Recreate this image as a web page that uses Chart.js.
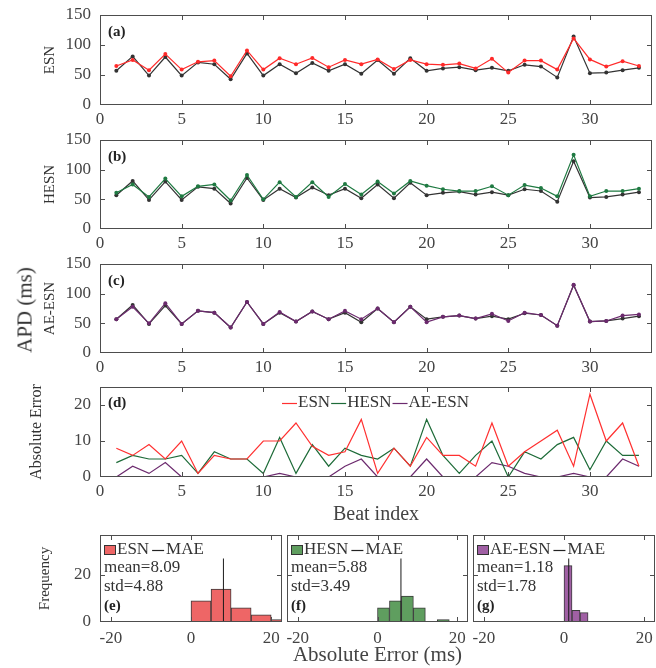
<!DOCTYPE html>
<html>
<head>
<meta charset="utf-8">
<script src="https://cdn.jsdelivr.net/npm/chart.js@4.4.0/dist/chart.umd.min.js"></script>
<style>
  html, body { margin: 0; padding: 0; background: #fff; }
  #fig { position: relative; width: 656px; height: 668px; overflow: hidden; }
  #fig canvas { position: absolute; }
  #apd {
    position: absolute; left: 25px; top: 310px;
    transform: translate(-50%, -50%) rotate(-90deg);
    font: 21px 'Liberation Serif', serif; color: #333; white-space: nowrap;
  }
</style>
</head>
<body>
<div id="fig">
  <canvas id="chA" width="656" height="135" style="left:0;top:-5px"></canvas>
  <canvas id="chB" width="656" height="135" style="left:0;top:120px"></canvas>
  <canvas id="chC" width="656" height="134" style="left:0;top:244px"></canvas>
  <canvas id="chD" width="656" height="163" style="left:0;top:367px"></canvas>
  <canvas id="chE" width="288" height="135" style="left:0;top:515px"></canvas>
  <canvas id="chF" width="199" height="153" style="left:275px;top:515px"></canvas>
  <canvas id="chG" width="200" height="135" style="left:461px;top:515px"></canvas>
  <div id="apd">APD (ms)</div>
</div>
<script>
// beat-by-beat APD values (ms)
const beats = [1,2,3,4,5,6,7,8,9,10,11,12,13,14,15,16,17,18,19,20,21,22,23,24,25,26,27,28,29,30,31,32,33];
const apdTrue = [57,81,49,80,49,71,68,43,86,49,68,53,70,57,68,52,75,52,78,57,61,63,58,62,57,67,64,46,114,53,54,58,62];
const apdESN  = [65,75,58,85,59,72,74,48,91,59,78,68,78.5,63,75,68,76,60,75,68,67,69,61,77,54,74,74,59,111,76,64,73,65];
const apdHESN = [61,75,54,85,55,72,75,48,91,50,79,54,79,54,76,58,80,60,81,73,67,64,64,72,57,74,69,55,125,55,64,64,68];
const apdAE   = [57,78,50,84,49,71,68,43,86,49,69,53,70,57,71,57,75,52,78,52,61,63,58,66,54,68,64,46,115,53,54,63,65];

// absolute errors per beat
const errESN  = [8,6,9,5,10,1,6,5,5,10,10,15,8.5,6,7,16,1,8,3,11,6,6,3,15,3,7,10,13,3,23,10,15,3];
const errHESN = [4,6,5,5,6,1,7,5,5,1,11,1,9,3,8,6,5,8,3,16,6,1,6,10,0,7,5,9,11,2,10,6,6];
const errAE   = [0,3,1,4,0,0,0,0,0,0,1,0,0,0,3,5,0,0,0,5,0,0,0,4,3,1,0,0,1,0,0,5,3];

// histograms of the errors
const esnBinCenters  = [2.5, 7.5, 12.5, 17.5, 22.5];
const esnCounts      = [9, 14, 6, 3, 1];
const hesnBinCenters = [1.5, 4.5, 7.5, 10.5, 13.5, 16.5];
const hesnCounts     = [6, 9, 11, 6, 0, 1];
const aeBinCenters   = [1, 3, 5];
const aeCounts       = [24, 5, 4];
const maeMean = [8.09, 5.88, 1.18];
const maeStd  = [4.88, 3.49, 1.78];
const maeLineTop = 27;

// tick values
const beatTicks = [0, 5, 10, 15, 20, 25, 30];
const apdTicks  = [0, 50, 100, 150];
const errTicks  = [0, 10, 20];
const histXTicks = [-20, 0, 20];
const histYTicks = [0, 20];

const C = {
  truth: '#333333',
  esn: '#ff2a2a', hesn: '#1f7a42', ae: '#6c2a6e',
  esnFill: 'rgb(238,102,102)', hesnFill: 'rgb(95,158,95)', aeFill: 'rgb(160,96,164)',
  axis: '#4d4d4d', text: '#444'
};

Chart.defaults.font.family = "'Liberation Serif', serif";
Chart.defaults.color = C.text;
Chart.defaults.animation = false;

const pts = arr => beats.map((b, i) => ({ x: b, y: arr[i] }));
const setTicks = list => s => { s.ticks = list.map(v => ({ value: v })); };
const fixW = w => s => { s.width = w; };
const fixH = h => s => { s.height = h; };

// MATLAB-like box with inward tick marks on all four sides
const boxTicks = {
  id: 'boxTicks',
  afterDatasetsDraw(chart) {
    const { ctx, chartArea: a, scales: { x, y } } = chart;
    ctx.save();
    ctx.strokeStyle = C.axis;
    ctx.lineWidth = 1;
    ctx.beginPath();
    x.ticks.forEach(t => {
      const px = Math.round(x.getPixelForValue(t.value)) + 0.5;
      if (px <= a.left + 1 || px >= a.right - 1) return;
      ctx.moveTo(px, a.bottom); ctx.lineTo(px, a.bottom - 5);
      ctx.moveTo(px, a.top); ctx.lineTo(px, a.top + 5);
    });
    y.ticks.forEach(t => {
      const py = Math.round(y.getPixelForValue(t.value)) + 0.5;
      if (py <= a.top + 1 || py >= a.bottom - 1) return;
      ctx.moveTo(a.left, py); ctx.lineTo(a.left + 5, py);
      ctx.moveTo(a.right, py); ctx.lineTo(a.right - 5, py);
    });
    ctx.stroke();
    ctx.strokeRect(Math.round(a.left) + 0.5, Math.round(a.top) + 0.5,
                   Math.round(a.width) - 1, Math.round(a.height) - 1);
    ctx.restore();
  }
};

// panel tags, stats text and inline legends, keyed by canvas id
const notesById = {};

const notes = {
  id: 'notes',
  afterDraw(chart) {
    const { ctx, chartArea: a } = chart;
    (notesById[chart.canvas.id] || []).forEach(it => {
      ctx.save();
      ctx.font = it.font;
      ctx.textBaseline = 'middle';
      ctx.textAlign = 'left';
      ctx.fillStyle = it.color || '#222';
      const y = a.top + it.dy;
      if (!Array.isArray(it.swatches)) {
        ctx.fillText(it.text, a.left + it.dx, y);
        ctx.restore();
        return;
      }
      let total = 0;
      it.swatches.forEach(k => { total += k.sw + k.gap + ctx.measureText(k.label).width + k.after; });
      let x = it.center ? a.left + a.width / 2 - total / 2 + it.dx : a.left + it.dx;
      it.swatches.forEach(k => {
        if (k.kind === 'box') {
          ctx.fillStyle = k.color;
          ctx.fillRect(x, y - 5, k.sw, 10);
          ctx.strokeStyle = '#333';
          ctx.lineWidth = 1;
          ctx.strokeRect(x + 0.5, y - 4.5, k.sw - 1, 9);
        } else {
          ctx.strokeStyle = k.color;
          ctx.lineWidth = 1.2;
          ctx.beginPath();
          ctx.moveTo(x, y + 0.5); ctx.lineTo(x + k.sw, y + 0.5);
          ctx.stroke();
        }
        x += k.sw + k.gap;
        ctx.fillStyle = it.color || '#222';
        ctx.fillText(k.label, x, y);
        x += ctx.measureText(k.label).width + k.after;
      });
      ctx.restore();
    });
  }
};

const tagFont = "bold 15px 'Liberation Serif', serif";
const noteFont = "17px 'Liberation Serif', serif";

function lineDataset(label, arr, color, withPoints) {
  return {
    label, data: pts(arr),
    borderColor: color, backgroundColor: color,
    borderWidth: 1.2,
    pointRadius: withPoints ? 2 : 0,
    pointBorderWidth: 0,
    tension: 0
  };
}

// top pad of 20 leaves room for the y tick label at the top edge
function beatChart(id, cfg) {
  notesById[id] = cfg.notes;
  return new Chart(document.getElementById(id), {
    type: 'line',
    data: { datasets: cfg.datasets },
    plugins: [boxTicks, notes],
    options: {
      responsive: false,
      layout: { padding: { top: 20, right: 4, left: 0, bottom: 0 } },
      plugins: {
        legend: { display: false },
        tooltip: { enabled: false }
      },
      scales: {
        x: {
          type: 'linear', min: 0, max: 33.8,
          afterBuildTicks: setTicks(beatTicks),
          afterFit: fixH(cfg.xh),
          grid: { display: false, drawTicks: false },
          border: { display: false },
          ticks: { font: { size: 17 }, padding: 4, maxRotation: 0 },
          title: cfg.xTitle ? {
            display: true, text: cfg.xTitle, color: '#444',
            font: { size: 20 }, padding: { top: 0, bottom: 3 }
          } : { display: false }
        },
        y: {
          min: 0, max: cfg.yMax,
          afterBuildTicks: setTicks(cfg.yTicks),
          afterFit: fixW(100),
          grid: { display: false, drawTicks: false },
          border: { display: false },
          ticks: { font: { size: 17 }, padding: 9 },
          title: {
            display: true, text: cfg.yTitle, color: '#333',
            font: { size: cfg.yTitleSize }, padding: { top: cfg.yTitlePad, bottom: 0 }
          }
        }
      }
    }
  });
}

beatChart('chA', {
  xh: 25, yMax: 150, yTicks: apdTicks,
  yTitle: 'ESN', yTitleSize: 15, yTitlePad: 41,
  datasets: [lineDataset('ESN', apdESN, C.esn, true), lineDataset('True', apdTrue, C.truth, true)],
  notes: [{ text: '(a)', dx: 8, dy: 17, font: tagFont, color: '#222' }]
});

beatChart('chB', {
  xh: 26, yMax: 150, yTicks: apdTicks,
  yTitle: 'HESN', yTitleSize: 15, yTitlePad: 41,
  datasets: [lineDataset('HESN', apdHESN, C.hesn, true), lineDataset('True', apdTrue, C.truth, true)],
  notes: [{ text: '(b)', dx: 8, dy: 17, font: tagFont, color: '#222' }]
});

beatChart('chC', {
  xh: 25, yMax: 150, yTicks: apdTicks,
  yTitle: 'AE-ESN', yTitleSize: 15, yTitlePad: 41,
  datasets: [lineDataset('AE-ESN', apdAE, C.ae, true), lineDataset('True', apdTrue, C.truth, true)],
  notes: [{ text: '(c)', dx: 8, dy: 17, font: tagFont, color: '#222' }]
});

const lineKey = (label, color) => ({ kind: 'line', label, color, sw: 15, gap: 1, after: 1 });

beatChart('chD', {
  xh: 53, yMax: 25, yTicks: errTicks,
  yTitle: 'Absolute Error', yTitleSize: 16, yTitlePad: 27,
  xTitle: 'Beat index',
  datasets: [
    lineDataset('ESN', errESN, '#ff3030', false),
    lineDataset('HESN', errHESN, '#1d6b38', false),
    lineDataset('AE-ESN', errAE, C.ae, false)
  ],
  notes: [
    { text: '(d)', dx: 8, dy: 16, font: tagFont, color: '#222' },
    { swatches: [lineKey('ESN', '#ff3030'), lineKey('HESN', '#1d6b38'), lineKey('AE-ESN', C.ae)],
      center: true, dx: 0, dy: 16, font: noteFont, color: '#333' }
  ]
});

function histChart(id, cfg) {
  const k = cfg.idx;
  notesById[id] = [
    { swatches: [
        { kind: 'box', label: cfg.name, color: cfg.fill, sw: 12, gap: 1, after: 3 },
        { kind: 'line', label: 'MAE', color: '#222', sw: 12, gap: 2, after: 0 }
      ], dx: 4, dy: 15, font: noteFont, color: '#333' },
    { text: 'mean=' + maeMean[k].toFixed(2), dx: 4, dy: 33, font: noteFont, color: '#333' },
    { text: 'std=' + maeStd[k].toFixed(2), dx: 4, dy: 52, font: noteFont, color: '#333' },
    { text: cfg.tag, dx: 4, dy: 71, font: tagFont, color: '#222' }
  ];
  return new Chart(document.getElementById(id), {
    type: 'bar',
    data: {
      datasets: [
        {
          type: 'line',
          label: 'MAE',
          data: [{ x: maeMean[k], y: 0 }, { x: maeMean[k], y: maeLineTop }],
          borderColor: '#1a1a1a', borderWidth: 1, pointRadius: 0
        },
        {
          type: 'bar',
          label: cfg.name,
          data: cfg.centers.map((c, i) => ({ x: c, y: cfg.counts[i] })),
          backgroundColor: cfg.fill, borderColor: '#3a3a3a', borderWidth: 1,
          barPercentage: 1, categoryPercentage: 1
        }
      ]
    },
    plugins: [boxTicks, notes],
    options: {
      responsive: false,
      layout: { padding: { top: 20, right: cfg.padRight, left: cfg.padLeft, bottom: 0 } },
      plugins: {
        legend: { display: false },
        tooltip: { enabled: false }
      },
      scales: {
        x: {
          type: 'linear', min: -22.7, max: 22.7, offset: false,
          afterBuildTicks: setTicks(histXTicks),
          afterFit: fixH(cfg.xh),
          grid: { display: false, drawTicks: false },
          border: { display: false },
          ticks: { font: { size: 17 }, padding: 6, maxRotation: 0 },
          title: cfg.xTitle ? {
            display: true, text: cfg.xTitle, color: '#444',
            font: { size: 21 }, padding: { top: 0, bottom: 0 }
          } : { display: false }
        },
        y: {
          min: 0, max: 37,
          afterBuildTicks: setTicks(histYTicks),
          afterFit: fixW(cfg.yw),
          grid: { display: false, drawTicks: false },
          border: { display: false },
          ticks: { display: cfg.yw > 0, font: { size: 17 }, padding: 9 },
          title: cfg.yTitle ? {
            display: true, text: cfg.yTitle, color: '#333',
            font: { size: 15 }, padding: { top: 36, bottom: 0 }
          } : { display: false }
        }
      }
    }
  });
}

histChart('chE', {
  idx: 0, name: 'ESN', tag: '(e)', fill: C.esnFill,
  centers: esnBinCenters, counts: esnCounts,
  padLeft: 0, padRight: 6, yw: 100, xh: 28, yTitle: 'Frequency'
});

histChart('chF', {
  idx: 1, name: 'HESN', tag: '(f)', fill: C.hesnFill,
  centers: hesnBinCenters, counts: hesnCounts,
  padLeft: 12, padRight: 6, yw: 0, xh: 46, xTitle: 'Absolute Error (ms)'
});

histChart('chG', {
  idx: 2, name: 'AE-ESN', tag: '(g)', fill: C.aeFill,
  centers: aeBinCenters, counts: aeCounts,
  padLeft: 12, padRight: 6, yw: 0, xh: 28
});
</script>
</body>
</html>
